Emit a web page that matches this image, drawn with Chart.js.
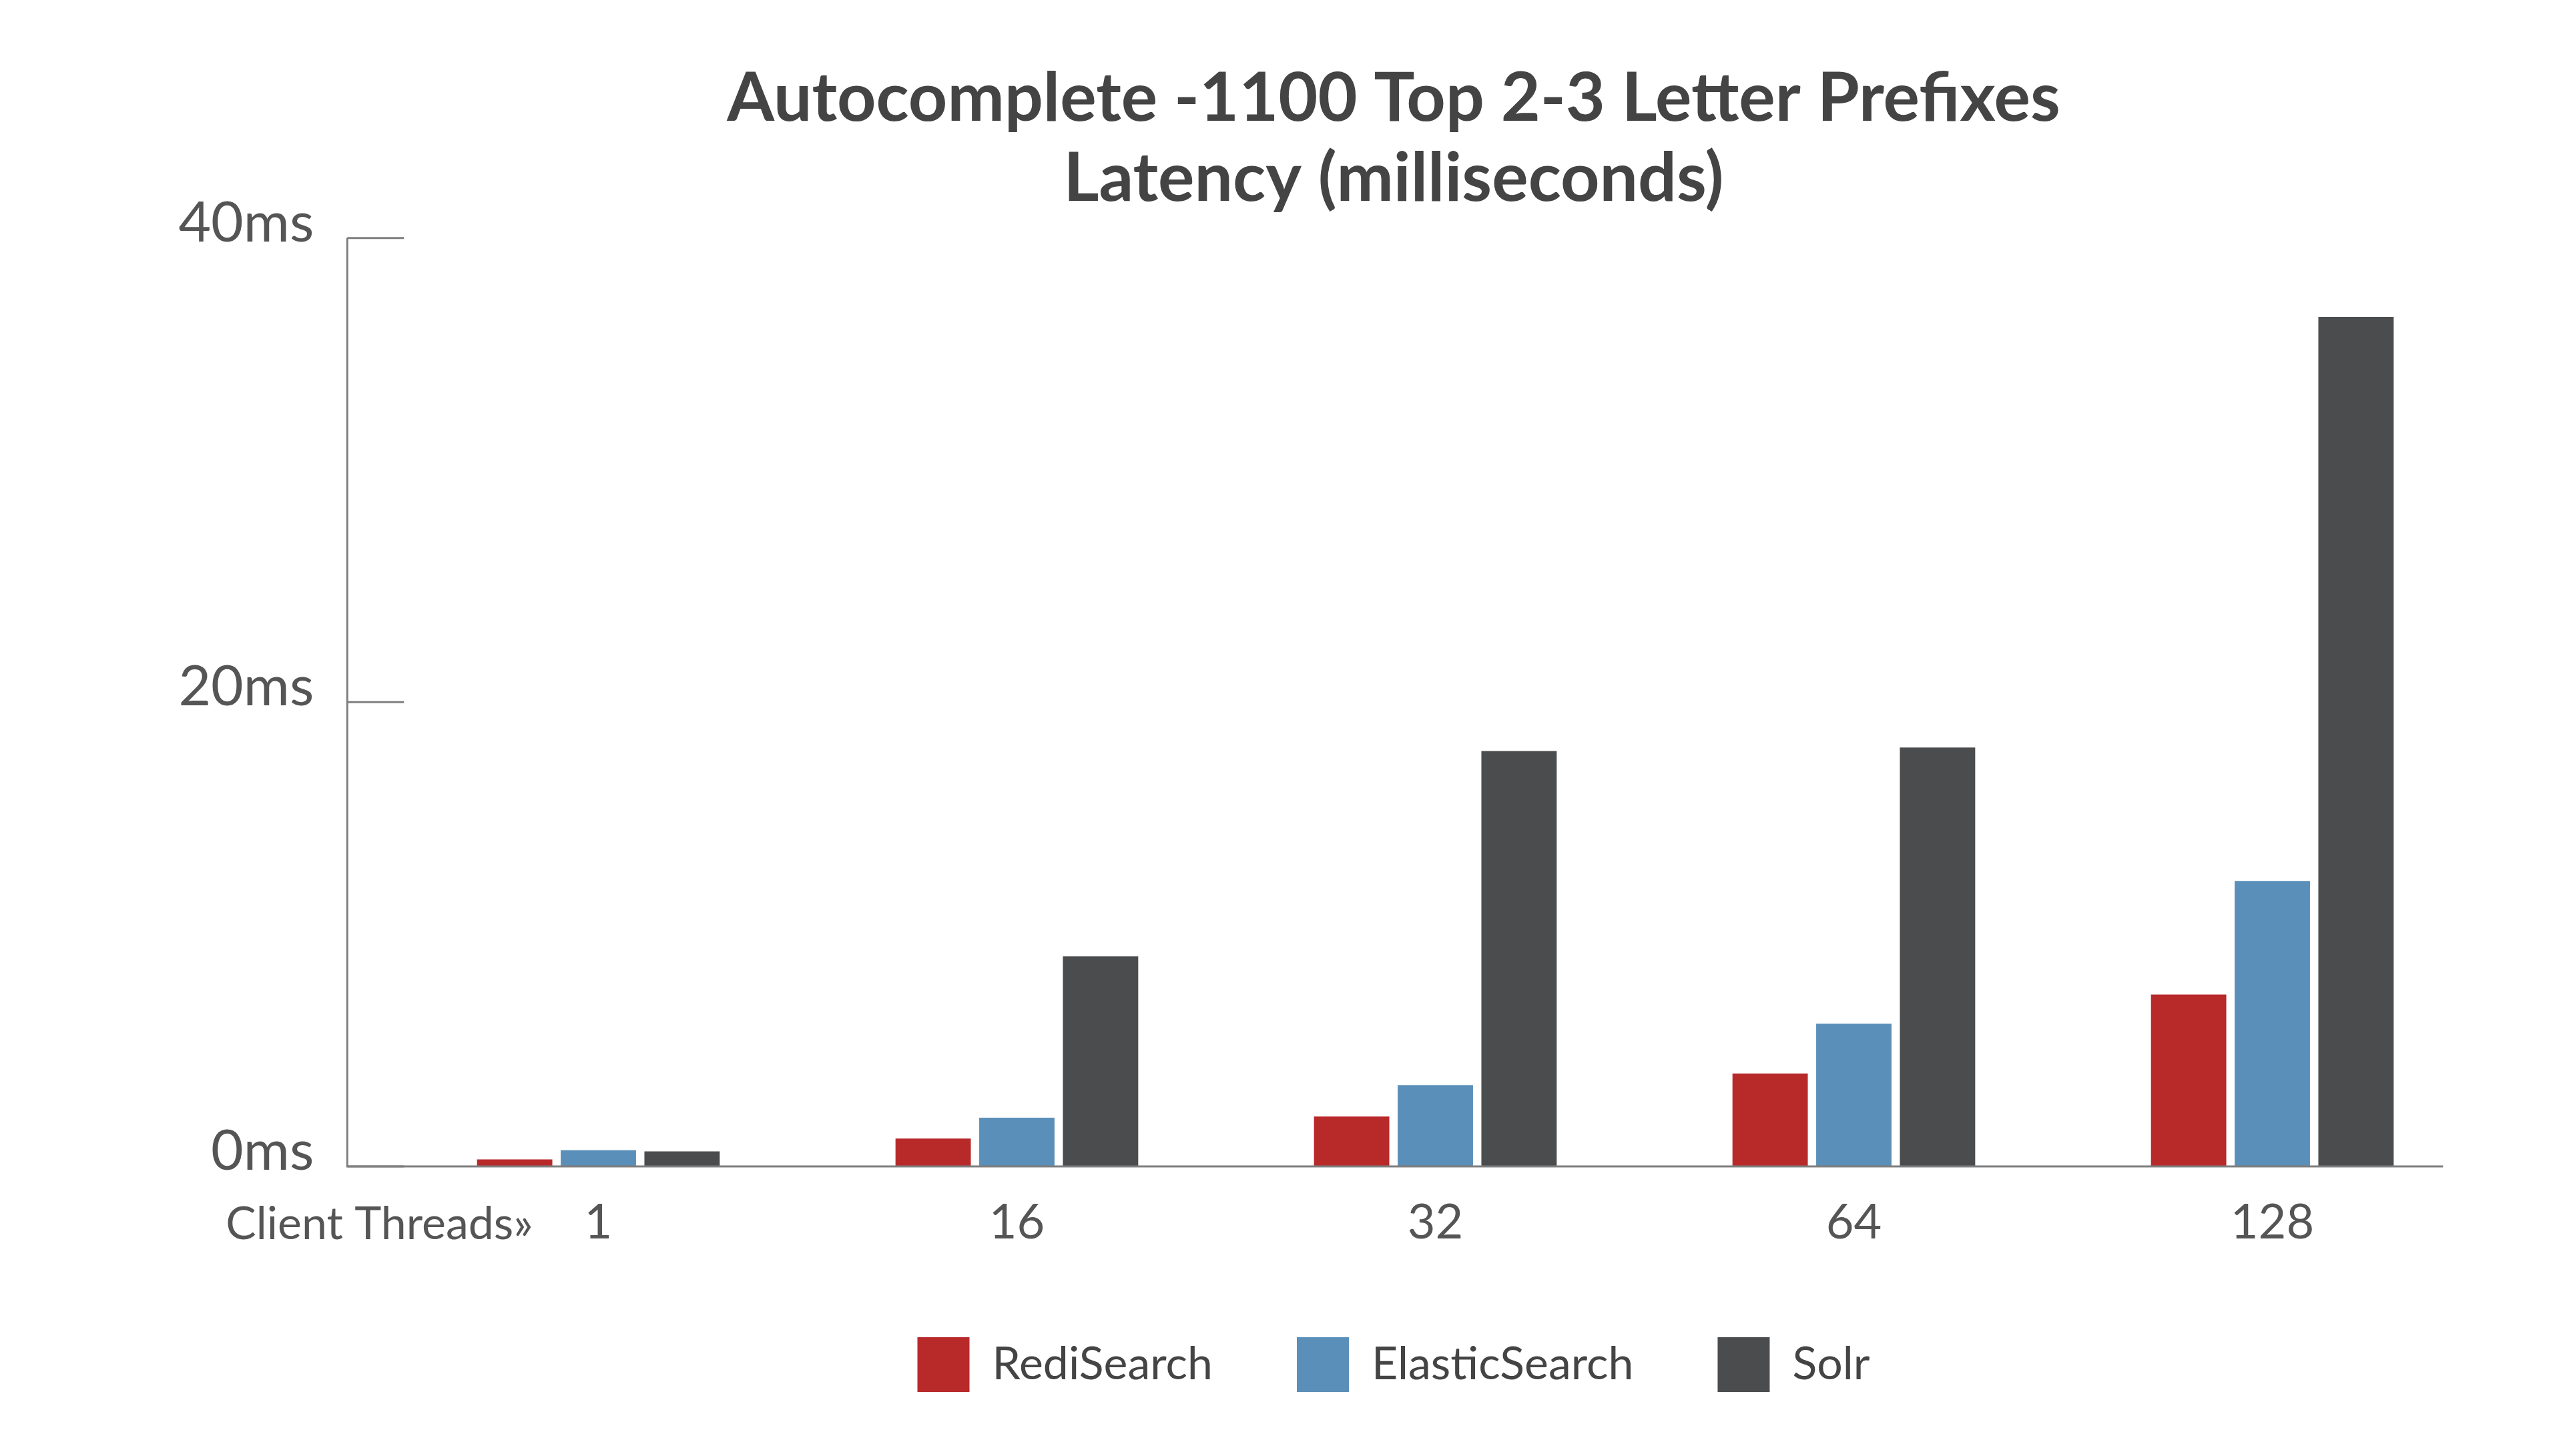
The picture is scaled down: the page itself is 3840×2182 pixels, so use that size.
<!DOCTYPE html>
<html>
<head>
<meta charset="utf-8">
<script src="https://cdn.jsdelivr.net/npm/chart.js@4.4.0/dist/chart.umd.min.js"></script>
<style>
  html, body { margin: 0; padding: 0; background: #ffffff; }
  #c { display: block; }
</style>
</head>
<body>
<canvas id="c" width="3840" height="2182"></canvas>
<script>
// ---- data ----
const categories = ['1', '16', '32', '64', '128'];
const seriesNames = ['RediSearch', 'ElasticSearch', 'Solr'];
const rediSearch = [0.3, 1.2, 2.15, 4.0, 7.4];
const elasticSearch = [0.7, 2.1, 3.5, 6.15, 12.3];
const solr = [0.65, 9.05, 17.9, 18.05, 36.6];
const yTicks = [0, 20, 40];
const yTickLabels = ['0ms', '20ms', '40ms'];
const titleLines = ['Autocomplete -1100 Top 2-3 Letter Prefixes', 'Latency (milliseconds)'];
const xAxisCaption = 'Client Threads\u00BB';

const colors = ['#B8292A', '#5A8FB9', '#4B4C4E'];
const axisColor = '#7f7f7f';
const textColor = '#555555';

// draws the axis lines, inward tick stubs, y tick labels and the "Client Threads»" caption
const axisPlugin = {
  id: 'axisPlugin',
  afterDraw(chart) {
    const ctx = chart.ctx;
    const area = chart.chartArea;
    const xs = chart.scales.x;
    const ys = chart.scales.y;
    const catW = (area.right - area.left) / categories.length;
    const axisX = area.left - catW * 0.1;
    const axisEnd = area.right - catW * 0.092;
    const base = ys.getPixelForValue(0);
    ctx.save();
    ctx.strokeStyle = axisColor;
    ctx.lineWidth = 3;
    ctx.beginPath();
    ctx.moveTo(axisX, ys.getPixelForValue(yTicks[yTicks.length - 1]));
    ctx.lineTo(axisX, base);
    ctx.lineTo(axisEnd, base);
    ctx.stroke();
    ctx.fillStyle = textColor;
    ctx.font = '84px Lato';
    ctx.textAlign = 'right';
    ctx.textBaseline = 'middle';
    yTicks.forEach((v, i) => {
      const y = ys.getPixelForValue(v);
      ctx.beginPath();
      ctx.moveTo(axisX, y);
      ctx.lineTo(axisX + 85, y);
      ctx.stroke();
      ctx.fillText(yTickLabels[i], axisX - 50, y - 22);
    });
    ctx.font = '68px Lato';
    ctx.fillText(xAxisCaption, xs.getPixelForValue(0) - 98, base + 87);
    ctx.restore();
  }
};

new Chart(document.getElementById('c'), {
  type: 'bar',
  data: {
    labels: categories,
    datasets: [
      { label: seriesNames[0], data: rediSearch, backgroundColor: colors[0], borderWidth: 0 },
      { label: seriesNames[1], data: elasticSearch, backgroundColor: colors[1], borderWidth: 0 },
      { label: seriesNames[2], data: solr, backgroundColor: colors[2], borderWidth: 0 }
    ]
  },
  options: {
    responsive: false,
    devicePixelRatio: 1,
    animation: false,
    datasets: { bar: { categoryPercentage: 0.6, barPercentage: 0.9 } },
    layout: { padding: { left: 458, right: 122, top: 0, bottom: 86 } },
    plugins: {
      title: {
        display: true,
        text: titleLines,
        color: '#444444',
        font: { family: 'Lato', weight: 'bold', size: 102, lineHeight: 1.18 },
        padding: { top: 88, bottom: 28 }
      },
      legend: {
        display: true,
        position: 'bottom',
        labels: {
          color: '#444444',
          font: { family: 'Lato', size: 68 },
          boxWidth: 78,
          boxHeight: 82,
          padding: 126
        }
      },
      tooltip: { enabled: false }
    },
    scales: {
      x: {
        grid: { display: false },
        border: { display: false },
        ticks: { color: textColor, font: { family: 'Lato', size: 72 }, padding: 34 },
        afterFit(scale) { scale.height = 130; }
      },
      y: {
        min: 0,
        max: 40,
        grid: { display: false },
        border: { display: false },
        afterBuildTicks(scale) { scale.ticks = yTicks.map(v => ({ value: v })); },
        ticks: { display: false },
        afterFit(scale) { scale.width = 125; }
      }
    }
  },
  plugins: [axisPlugin]
});
</script>
</body>
</html>
